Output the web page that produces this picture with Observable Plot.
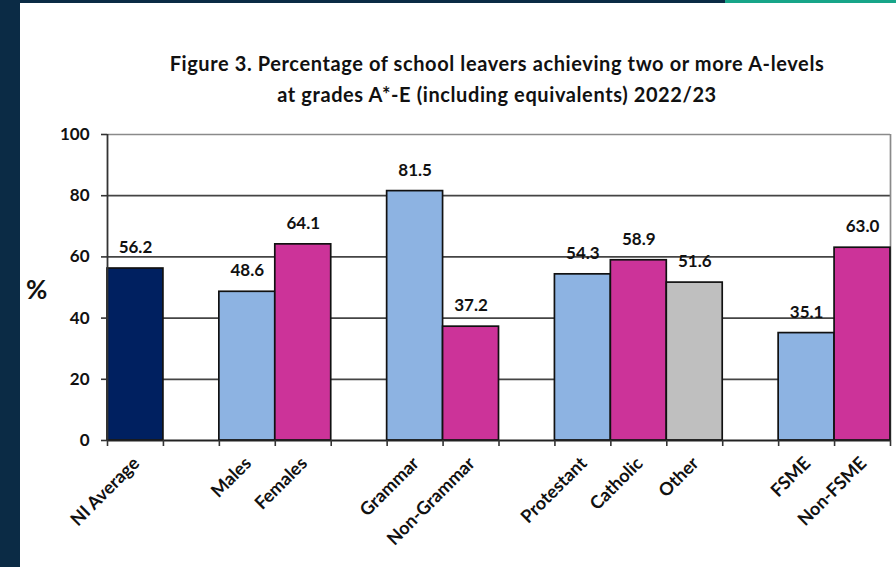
<!DOCTYPE html>
<html>
<head>
<meta charset="utf-8">
<script src="https://cdn.jsdelivr.net/npm/d3@7"></script>
<script src="https://cdn.jsdelivr.net/npm/@observablehq/plot@0.6"></script>
<style>
  html, body { margin: 0; padding: 0; background: #fff; }
  #page { position: relative; width: 896px; height: 567px; overflow: hidden; background: #fff; font-family: Lato, "Open Sans", sans-serif; }
  #sidebar { position: absolute; left: 0; top: 0; width: 20px; height: 567px; background: #0b2b45; }
  #topbar { position: absolute; left: 20px; top: 0; width: 705px; height: 3px; background: #0b2b45; }
  #topbar2 { position: absolute; left: 725px; top: 0; width: 171px; height: 3px; background: #17a589; }
  #title { position: absolute; left: 97px; top: 48px; width: 800px; text-align: center; font-weight: 700; font-size: 20px; letter-spacing: 0.6px; line-height: 31px; color: #111; }
  #chart { position: absolute; left: 0; top: 120px; }
  #ylabel { position: absolute; left: 26px; top: 273px; font-weight: 700; font-size: 26px; color: #111; }
</style>
</head>
<body>
<div id="page">
  <div id="sidebar"></div>
  <div id="topbar"></div>
  <div id="topbar2"></div>
  <div id="title">Figure 3. Percentage of school leavers achieving two or more A-levels<br>at grades A*-E (including equivalents) 2022/23</div>
  <div id="ylabel">%</div>
  <div id="chart"></div>
</div>
<script>
// Groups of categories; an empty slot separates each group on the x axis
const groups = [
  ["NI Average"],
  ["Males", "Females"],
  ["Grammar", "Non-Grammar"],
  ["Protestant", "Catholic", "Other"],
  ["FSME", "Non-FSME"]
];
const categories = ["NI Average", "Males", "Females", "Grammar", "Non-Grammar", "Protestant", "Catholic", "Other", "FSME", "Non-FSME"];
const values = [56.2, 48.6, 64.1, 81.5, 37.2, 54.3, 58.9, 51.6, 35.1, 63.0];
const fills = ["#002060", "#8db3e2", "#cc3399", "#8db3e2", "#cc3399", "#8db3e2", "#cc3399", "#bfbfbf", "#8db3e2", "#cc3399"];
const yTicks = [0, 20, 40, 60, 80, 100];

// Lay categories out in consecutive slots, leaving one blank slot between groups
const slotOf = new Map();
let s = 0;
groups.forEach((g, gi) => {
  if (gi > 0) s += 1;
  g.forEach(c => { slotOf.set(c, s); s += 1; });
});
const nSlots = s;

const data = categories.map((c, i) => ({
  category: c,
  value: values[i],
  fill: fills[i],
  x1: slotOf.get(c),
  x2: slotOf.get(c) + 1,
  xm: slotOf.get(c) + 0.5
}));

const chart = Plot.plot({
  width: 896,
  height: 447,
  marginLeft: 107,
  marginRight: 6,
  marginTop: 14,
  marginBottom: 127,
  style: { fontFamily: "Lato, 'Open Sans', sans-serif", color: "#111", background: "transparent" },
  x: { domain: [0, nSlots], axis: null },
  y: { domain: [0, 100], axis: null },
  marks: [
    // gridlines and frame
    Plot.ruleY(yTicks.filter(t => t > 0 && t < 100), { stroke: "#444", strokeWidth: 1.7 }),
    Plot.ruleY([100], { stroke: "#8a8a8a", strokeWidth: 1.7 }),
    Plot.ruleX([nSlots], { y1: 0, y2: 100, stroke: "#8a8a8a", strokeWidth: 1.7 }),
    // bars
    Plot.rectY(data, { x1: "x1", x2: "x2", y: "value", fill: "fill", stroke: "#111", strokeWidth: 1.7 }),
    // axes
    Plot.ruleX([0], { y1: 0, y2: 100, stroke: "#333", strokeWidth: 1.8 }),
    Plot.ruleY([0], { stroke: "#222", strokeWidth: 2 }),
    Plot.axisY({ ticks: yTicks, tickSize: 6, tickPadding: 12, fontSize: 17, fontWeight: 700, label: null, stroke: "#333", strokeWidth: 1.6 }),
    Plot.axisX({ ticks: d3.range(nSlots + 1), tickSize: 6, tickFormat: () => "", label: null, stroke: "#333", strokeWidth: 1.6 }),
    // category labels
    Plot.text(data, { x: "xm", text: "category", frameAnchor: "bottom", rotate: -45, textAnchor: "end", dx: 5, dy: 24, fontSize: 18, fontWeight: 700, fill: "#111" }),
    // value labels
    Plot.text(data, { x: "xm", y: "value", text: d => d.value.toFixed(1), dy: -21, fontSize: 17, fontWeight: 700, fill: "#111" })
  ]
});
document.getElementById("chart").appendChild(chart);
</script>
</body>
</html>
